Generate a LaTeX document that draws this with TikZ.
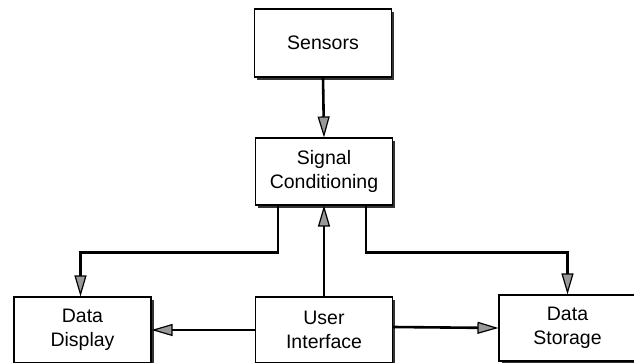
\documentclass[tikz,border=0pt]{standalone}
\usepackage{fontspec}
\setmainfont{Liberation Sans}
\usepackage{tikz}
\usetikzlibrary{arrows.meta,shadows}

\tikzset{
    blockbox/.style={draw=black, line width=1.1pt, fill=white, align=center,
        minimum width=137pt, minimum height=66pt, inner sep=0pt,
        font=\fontsize{19.5}{24}\selectfont,
        drop shadow={shadow xshift=2.8pt, shadow yshift=-2.8pt, fill=black!80, opacity=1}},
    conn/.style={line width=2.6pt, -{Triangle[length=21pt, width=12pt, fill=black!40, line width=1.2pt]}},
}

\begin{document}
\begin{tikzpicture}[x=1pt,y=1pt]
                \useasboundingbox (0,0) rectangle (634,362);
                \node[blockbox, minimum height=68pt] (sensors) at (323,319) {Sensors};
                \node[blockbox, minimum height=67pt] (signal) at (324,190.5) {Signal\\Conditioning};
                \node[blockbox] (display) at (82.5,32) {Data\\Display};
                \node[blockbox] (user) at (324,32) {User\\Interface};
                \node[blockbox] (storage) at (567.5,34) {Data\\Storage};
                \draw[conn] (sensors.south) -- (signal.north);
                \draw[conn] (user.north) -- (signal.south);
                \draw[conn] ([xshift=-46pt]signal.south) -- ++(0,-47) -| ([xshift=-2pt]display.north);
                \draw[conn] ([xshift=42pt]signal.south) -- ++(0,-47) -| (storage.north);
                \draw[conn] (user.west) -- (display.east);
                \draw[conn] ([yshift=3pt]user.east) -- ([yshift=0pt]storage.west);
            \end{tikzpicture}
\end{document}
